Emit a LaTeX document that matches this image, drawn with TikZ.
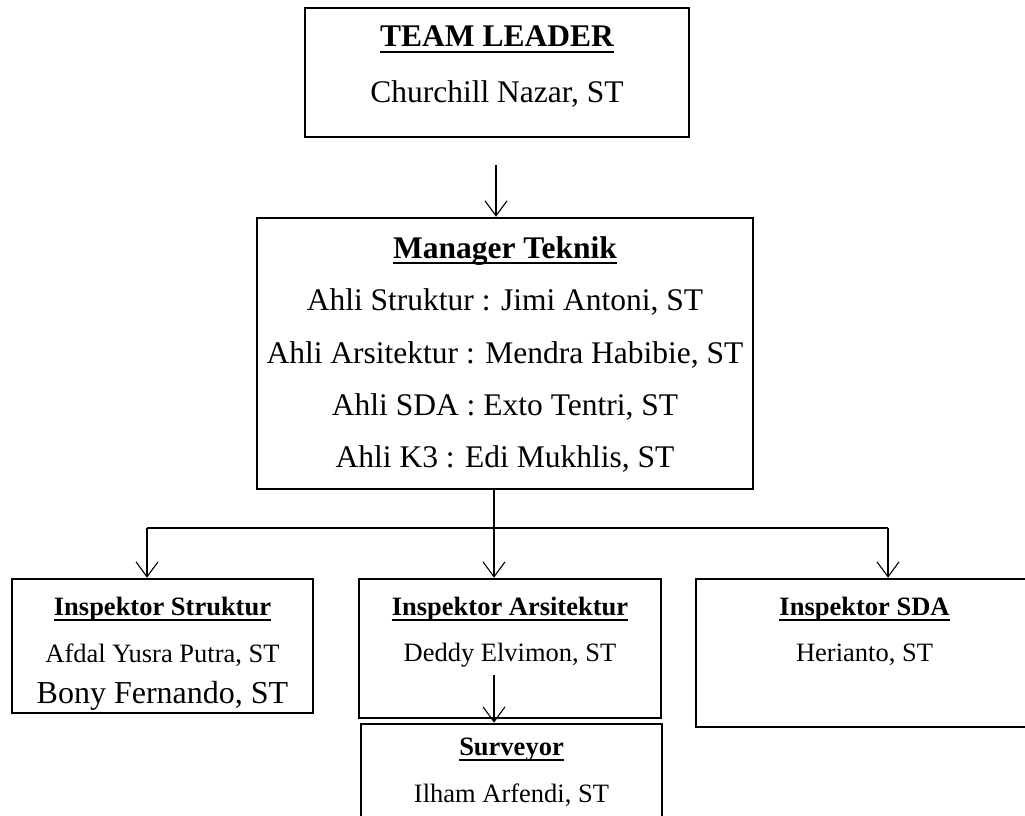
\documentclass[tikz,border=0pt]{standalone}
\usepackage{fontspec}
\setmainfont{Liberation Serif}
\usetikzlibrary{arrows.meta}
\begin{document}
\begin{tikzpicture}[x=1pt,y=-1pt,
  box/.style={draw, line width=2.5pt, inner sep=0pt},
  conn/.style={line width=1.1pt},
  arr/.style={conn, -{Straight Barb[length=15pt,width=22pt,line width=1.1pt]}},
  big/.style={inner sep=0pt, anchor=base, font=\fontsize{31.5}{36}\selectfont},
  bigb/.style={inner sep=0pt, anchor=base, font=\fontsize{31.5}{36}\selectfont\bfseries},
  small/.style={inner sep=0pt, anchor=base, font=\fontsize{26.5}{30}\selectfont},
  smallb/.style={inner sep=0pt, anchor=base, font=\fontsize{26.5}{30}\selectfont\bfseries},
  ul/.style={line width=2pt}]
\useasboundingbox (0,0) rectangle (1025,816);
\clip (0,0) rectangle (1025,816);
% boxes
\node[box, minimum width=384pt, minimum height=129pt] (tl) at (497,72.5) {};
\node[box, minimum width=496pt, minimum height=271pt] (mgr) at (505,353.5) {};
\node[box, minimum width=301pt, minimum height=134pt] (str) at (162.5,646) {};
\node[box, minimum width=302pt, minimum height=139pt] (ars) at (510,648.5) {};
\node[box, minimum width=301pt, minimum height=116pt] (sur) at (511.5,782) {};
\node[box, minimum width=337pt, minimum height=148pt] (sda) at (864.5,653) {};
% texts
\node[bigb] (tlt) at (497,47) {TEAM LEADER};
\node[big] (tln) at (497,102) {Churchill Nazar, ST};
\node[bigb] (mgt) at (505,258) {Manager Teknik};
\node[big] (m1) at (505,310) {Ahli Struktur : Jimi Antoni, ST};
\node[big] (m2) at (505,363) {Ahli Arsitektur : Mendra Habibie, ST};
\node[big] (m3) at (505,415) {Ahli SDA : Exto Tentri, ST};
\node[big] (m4) at (505,467) {Ahli K3 : Edi Mukhlis, ST};
\node[smallb] (strt) at (162.5,615) {Inspektor Struktur};
\node[small] (s1) at (162.5,662) {Afdal Yusra Putra, ST};
\node[inner sep=0pt, anchor=base, font=\fontsize{32}{36}\selectfont] (s2) at (162.5,703) {Bony Fernando, ST};
\node[smallb] (arst) at (510,615) {Inspektor Arsitektur};
\node[small] (a1t) at (510,661) {Deddy Elvimon, ST};
\node[smallb] (surt) at (511.5,755) {Surveyor};
\node[small] (su1) at (511.5,802) {Ilham Arfendi, ST};
\node[smallb] (sdat) at (864.5,615) {Inspektor SDA};
\node[small] (sd1) at (864.5,661) {Herianto, ST};
% underlines
\foreach \t in {tlt,mgt} {
  \draw[ul] ([yshift=-5pt]\t.base west) -- ([yshift=-5pt]\t.base east);
}
\foreach \t in {strt,arst,surt,sdat} {
  \draw[ul] ([yshift=-4.5pt]\t.base west) -- ([yshift=-4.5pt]\t.base east);
}
% connectors
\coordinate (c1) at (496,165);
\draw[arr] (c1) -- (c1 |- mgr.north);
\coordinate (j) at (494,528);
\coordinate (jl) at (147,528);
\coordinate (jr) at (888,528);
\draw[conn] (mgr.south -| j) -- (j);
\draw[conn] (jl) -- (jr);
\draw[arr] (jl) -- (jl |- str.north);
\draw[arr] (j) -- (j |- ars.north);
\draw[arr] (jr) -- (jr |- sda.north);
\coordinate (c2) at (494,675);
\draw[arr] (c2) -- (c2 |- sur.north);
\end{tikzpicture}
\end{document}
